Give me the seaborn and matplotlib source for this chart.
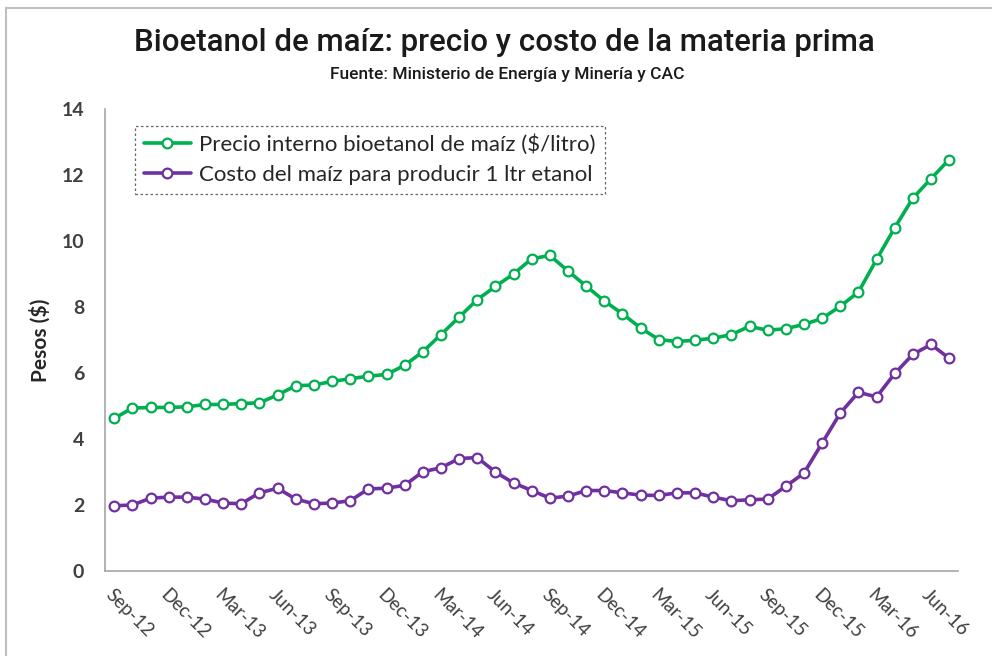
import numpy as np
import pandas as pd
import matplotlib.pyplot as plt
import seaborn as sns
from matplotlib.patches import Rectangle

# monthly series Sep-12 .. Jul-16
months = pd.date_range('2012-09-01', '2016-07-01', freq='MS')

precio = [4.63, 4.94, 4.96, 4.96, 4.98, 5.05, 5.05, 5.08, 5.10, 5.34, 5.62, 5.64,
          5.75, 5.83, 5.91, 5.96, 6.24, 6.65, 7.17, 7.70, 8.23, 8.63, 9.01, 9.47,
          9.57, 9.10, 8.64, 8.19, 7.80, 7.37, 7.02, 6.96, 7.00, 7.06, 7.17, 7.42,
          7.30, 7.35, 7.48, 7.66, 8.03, 8.46, 9.45, 10.41, 11.31, 11.90, 12.48]

costo = [1.98, 2.00, 2.21, 2.24, 2.24, 2.18, 2.06, 2.04, 2.37, 2.51, 2.18, 2.04,
         2.06, 2.13, 2.49, 2.51, 2.60, 3.01, 3.13, 3.41, 3.44, 3.00, 2.67, 2.44,
         2.21, 2.27, 2.44, 2.44, 2.37, 2.30, 2.29, 2.37, 2.37, 2.24, 2.13, 2.16,
         2.18, 2.57, 2.97, 3.88, 4.79, 5.42, 5.28, 5.99, 6.57, 6.87, 6.45]

labels = ['Precio interno bioetanol de maíz ($/litro)',
          'Costo del maíz para producir 1 ltr etanol']
colors = ['#00B050', '#7030A0']

df = pd.DataFrame({'idx': np.arange(len(months)), labels[0]: precio, labels[1]: costo})
long_df = df.melt(id_vars='idx', var_name='serie', value_name='valor')

sns.set_style('white')
plt.rcParams['font.family'] = ['Lato', 'DejaVu Sans']

fig = plt.figure(figsize=(9.92, 6.56), dpi=100)
ax = fig.add_axes([0.106, 0.1296, 0.860, 0.7036])

sns.lineplot(data=long_df, x='idx', y='valor', hue='serie', palette=colors,
             hue_order=labels, linewidth=2.6, marker='o', markersize=7,
             markerfacecolor='white', markeredgewidth=1.6, legend=False, ax=ax)
for line, c in zip(ax.lines, colors):
    line.set_markeredgecolor(c)

ax.set_xlim(-0.5, len(months) - 0.5)
ax.set_ylim(0, 14)
ax.set_yticks(np.arange(0, 15, 2))
ax.set_xticks(np.arange(-0.5, len(months), 3))
ax.set_xticklabels([])
ax.set_xticks(np.arange(0, len(months), 3), minor=True)
ax.set_xticklabels([m.strftime('%b-%y') for m in months[::3]], minor=True,
                   rotation=-45, ha='left', va='top', rotation_mode='anchor',
                   fontsize=13.5, color='#404040')
ax.tick_params(axis='x', which='minor', length=0, pad=11)
ax.tick_params(axis='x', which='major', direction='out', length=5, color='#a6a6a6', width=1)
ax.tick_params(axis='y', direction='out', length=5, color='#a6a6a6', width=1,
               labelsize=14, labelcolor='#404040', pad=10)
for t in ax.get_yticklabels():
    t.set_fontweight('bold')

for s in ['top', 'right']:
    ax.spines[s].set_visible(False)
for s in ['left', 'bottom']:
    ax.spines[s].set_color('#a6a6a6')
    ax.spines[s].set_linewidth(1.2)

ax.set_xlabel('')
ax.set_ylabel('Pesos ($)', fontsize=15, fontweight='bold', color='#262626', labelpad=8)

leg = ax.legend(handles=ax.lines[:2], labels=labels, loc='upper left',
                bbox_to_anchor=(0.035, 0.965), fontsize=16,
                frameon=True, fancybox=False, handlelength=2.1, handletextpad=0.4,
                borderpad=0.4, labelspacing=0.45, borderaxespad=0)
leg.get_frame().set_linestyle((0, (2, 2)))
leg.get_frame().set_edgecolor('#404040')
leg.get_frame().set_linewidth(0.9)
for t in leg.get_texts():
    t.set_color('#262626')

fig.text(0.508, 0.935, 'Bioetanol de maíz: precio y costo de la materia prima',
         ha='center', va='center', fontsize=22.5, fontweight='medium',
         family=['Roboto', 'DejaVu Sans'], color='#1a1a1a')
fig.text(0.511, 0.887, 'Fuente: Ministerio de Energía y Minería y CAC',
         ha='center', va='center', fontsize=12.5, fontweight='medium',
         family=['Roboto', 'DejaVu Sans'], color='#1a1a1a')

fig.patches.append(Rectangle((0.006, -0.1), 1.2, 1.088, transform=fig.transFigure,
                             fill=False, edgecolor='#bfbfbf', linewidth=1.5))

fig.savefig('out.png', dpi=100)
